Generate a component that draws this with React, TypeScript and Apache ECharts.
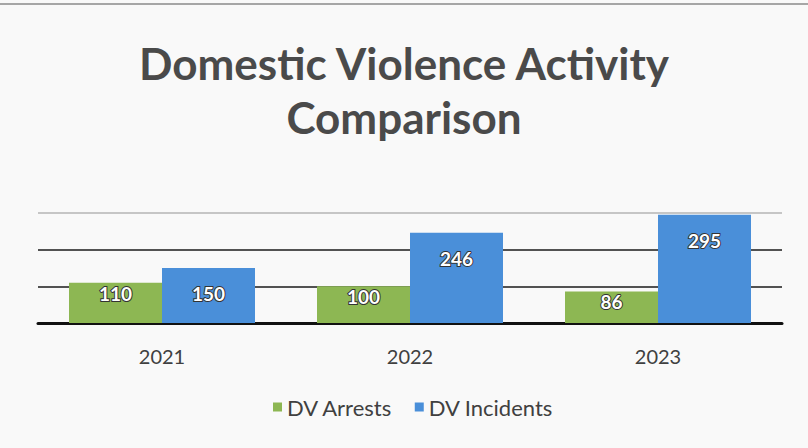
import React, { useEffect, useRef } from "react";
import * as echarts from "echarts";

const years = ["2021", "2022", "2023"];
const arrests = [110, 100, 86];
const incidents = [150, 246, 295];
const seriesNames = ["DV Arrests", "DV Incidents"];
const titleText = "Domestic Violence Activity\nComparison";

export default function App() {
  const ref = useRef<HTMLDivElement>(null);
  useEffect(() => {
    const chart = echarts.init(ref.current!, null, { renderer: "svg" });
    const labelBase = {
      show: true,
      color: "#ffffff",
      fontFamily: "Lato",
      fontWeight: "bold",
      fontSize: 19,
      textBorderColor: "#333",
      textBorderWidth: 2,
    };
    chart.setOption({
      animation: false,
      backgroundColor: "#f9f9f9",
      graphic: [
        {
          type: "line",
          shape: { x1: 0, y1: 4, x2: 808, y2: 4 },
          style: { stroke: "#8a8a8a", lineWidth: 1.5 },
        },
      ],
      title: {
        text: titleText,
        left: "center",
        top: 31,
        textStyle: {
          fontFamily: "Lato",
          fontWeight: "bold",
          fontSize: 44,
          lineHeight: 54,
          color: "#4a4a4a",
        },
      },
      legend: {
        bottom: 25,
        left: 268,
        icon: "rect",
        itemWidth: 9,
        itemHeight: 9,
        itemGap: 22,
        textStyle: { fontFamily: "Lato", fontSize: 22, color: "#404040" },
        data: seriesNames,
      },
      grid: { left: 38, right: 26, top: 213, bottom: 125 },
      xAxis: {
        type: "category",
        data: years,
        axisTick: { show: false },
        axisLine: { lineStyle: { color: "#111", width: 3 } },
        axisLabel: {
          margin: 23,
          fontFamily: "Lato",
          fontSize: 20,
          color: "#404040",
        },
      },
      yAxis: {
        type: "value",
        min: 0,
        max: 300,
        interval: 100,
        axisLabel: { show: false },
        axisLine: { show: false },
        axisTick: { show: false },
        splitLine: {
          lineStyle: { color: ["#111", "#1a1a1a", "#1a1a1a", "#b5b5b5"], width: 1.6 },
        },
      },
      series: [
        {
          name: seriesNames[0],
          type: "bar",
          data: arrests,
          barGap: "0%",
          barCategoryGap: "25%",
          itemStyle: { color: "#8DB753" },
          label: { ...labelBase, position: "insideTop", distance: 1 },
        },
        {
          name: seriesNames[1],
          type: "bar",
          data: incidents,
          itemStyle: { color: "#4A8FD9" },
          label: { ...labelBase, position: "insideTop", distance: 16 },
        },
      ],
    });
    return () => chart.dispose();
  }, []);
  return (
    <div
      ref={ref}
      style={{ position: "fixed", left: 0, top: 0, width: 808, height: 448 }}
    />
  );
}
